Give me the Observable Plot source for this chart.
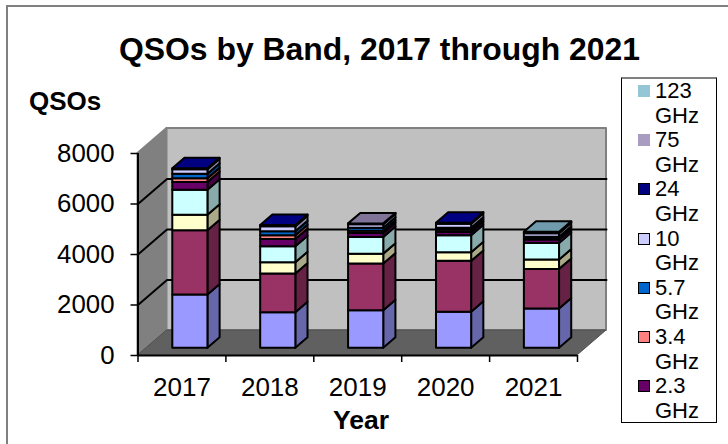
<!DOCTYPE html>
<html>
<head>
<meta charset="utf-8">
<script src="https://cdn.jsdelivr.net/npm/d3@7"></script>
<script src="https://cdn.jsdelivr.net/npm/@observablehq/plot@0.6"></script>
<style>
html,body{margin:0;padding:0;background:#fff}
#chart{position:relative;width:728px;height:444px;overflow:hidden;font-family:"Liberation Sans",Arial,sans-serif;color:#000}
#chart svg{position:absolute;left:0;top:0}
#frame{position:absolute;left:6px;top:5px;width:730px;height:450px;border:2px solid #808080}
.t{position:absolute;font-weight:bold;white-space:nowrap;line-height:1}
#title{left:0;width:759px;text-align:center;top:34px;font-size:31.9px}
#ylab{left:29px;top:88px;font-size:26px}
#xlab{left:333px;top:407px;font-size:26.5px}
#legend{position:absolute;left:621px;top:77px;width:94px;height:343px;border:1px solid #000;border-top:2px solid #808080;background:#fff;font-size:22px;line-height:24.6px}
.item{position:absolute;left:0;width:94px;height:49px}
.sw{position:absolute;left:16px;top:6px;width:10px;height:10px;border:1px solid #000}
.lb{position:absolute;left:33px;top:0;width:58px}
</style>
</head>
<body>
<div id="chart"></div>
<script>
const years = ["2017", "2018", "2019", "2020", "2021"];
const seriesNames = ["b1", "b2", "b3", "b4", "2.3 GHz", "3.4 GHz", "5.7 GHz", "10 GHz", "24 GHz", "75 GHz", "123 GHz"];
const frontColors = ["#9999FF", "#993366", "#FFFFCC", "#CCFFFF", "#660066", "#FF8080", "#0066CC", "#CCCCFF", "#000080", "#A89CC0", "#94C6D6"];
const sideColors  = ["#6666AA", "#662244", "#AAAA88", "#88AAAA", "#440044", "#AA5555", "#004488", "#8888AA", "#000055", "#706880", "#62848F"];
const topColors   = ["#7A7ACC", "#7A2952", "#CCCCA3", "#A3CCCC", "#520052", "#CC6666", "#0052A3", "#A3A3CC", "#000080", "#7F7398", "#6F9BAC"];

const v2017 = [2108, 2543, 620, 990, 305, 145, 178, 178, 40, 0, 0];
const v2018 = [1410, 1527, 451, 633, 289, 146, 158, 198, 50, 0, 0];
const v2019 = [1490, 1843, 395, 660, 158, 91, 119, 138, 20, 12, 0];
const v2020 = [1424, 2017, 344, 668, 134, 91, 79, 158, 40, 0, 0];
const v2021 = [1554, 1570, 368, 660, 131, 59, 59, 138, 20, 16, 16];
const table = [v2017, v2018, v2019, v2020, v2021];

const yTicks = [0, 2000, 4000, 6000, 8000];
const legendOrder = ["123 GHz", "75 GHz", "24 GHz", "10 GHz", "5.7 GHz", "3.4 GHz", "2.3 GHz"];

// oblique projection: depth z (0 front .. 1 back) shifts a point in data units
const depthX = 0.33, depthY = 989;
const barWidth = 0.40, zFront = 0.29, zBack = 0.71;
const px = (c, z) => c + z * depthX;
const py = (v, z) => v + z * depthY;
let nid = 0;
// a face is a pair of points joined by an area: two opposite edges
function face(list, a1, a2, b1, b2, fill) {
  const id = nid++;
  list.push({id, x1: a1[0], y1: a1[1], x2: a2[0], y2: a2[1], fill});
  list.push({id, x1: b1[0], y1: b1[1], x2: b2[0], y2: b2[1], fill});
}
const barFaces = [];
table.forEach((vals, c) => {
  const L = c + 0.5 - barWidth / 2, R = c + 0.5 + barWidth / 2;
  let base = 0, last = 0;
  vals.forEach((v, s) => {
    if (!v) return;
    const top = base + v;
    face(barFaces, [px(R, zFront), py(base, zFront)], [px(R, zFront), py(top, zFront)],
                   [px(R, zBack), py(base, zBack)], [px(R, zBack), py(top, zBack)], sideColors[s]);
    face(barFaces, [px(L, zFront), py(base, zFront)], [px(L, zFront), py(top, zFront)],
                   [px(R, zFront), py(base, zFront)], [px(R, zFront), py(top, zFront)], frontColors[s]);
    base = top; last = s;
  });
  face(barFaces, [px(L, zFront), py(base, zFront)], [px(R, zFront), py(base, zFront)],
                 [px(L, zBack), py(base, zBack)], [px(R, zBack), py(base, zBack)], topColors[last]);
});
const wallFaces = [];
face(wallFaces, [px(0, 0), py(0, 0)], [px(0, 0), py(8000, 0)], [px(0, 1), py(0, 1)], [px(0, 1), py(8000, 1)], "#808080");
face(wallFaces, [px(0, 1), py(0, 1)], [px(0, 1), py(8000, 1)], [px(5, 1), py(0, 1)], [px(5, 1), py(8000, 1)], "#C0C0C0");
const floorFaces = [];
face(floorFaces, [px(0, 0), py(0, 0)], [px(5, 0), py(0, 0)], [px(0, 1), py(0, 1)], [px(5, 1), py(0, 1)], "#606060");

const grid = [];
yTicks.slice(1, 4).forEach(v => {
  grid.push({v, x: px(0, 0), y: py(v, 0)}, {v, x: px(0, 1), y: py(v, 1)}, {v, x: px(5, 1), y: py(v, 1)});
});
const areaOpts = {x1: "x1", y1: "y1", x2: "x2", y2: "y2", z: "id", fill: "fill", curve: "linear"};

const plot = Plot.plot({
  width: 728, height: 444,
  marginLeft: 137.5, marginRight: 151, marginTop: 153, marginBottom: 89,
  style: {background: "transparent", fontFamily: '"Liberation Sans", Arial, sans-serif', overflow: "visible"},
  x: {domain: [0, 5]},
  y: {domain: [0, 8000]},
  marks: [
    Plot.area(wallFaces, {...areaOpts, stroke: "#808080", strokeWidth: 2}),
    Plot.area(floorFaces, {...areaOpts, stroke: "#505050", strokeWidth: 1}),
    Plot.line(grid, {x: "x", y: "y", z: "v", stroke: "#000", strokeWidth: 2}),
    Plot.area(barFaces, {...areaOpts, stroke: "#000", strokeWidth: 2, strokeLinejoin: "round"}),
    Plot.ruleX([0], {stroke: "#000", strokeWidth: 2}),
    Plot.ruleY([0], {stroke: "#000", strokeWidth: 2}),
    Plot.axisY({ticks: yTicks, tickFormat: d => String(d), tickSize: 7, tickPadding: 16.5, fontSize: 25.8, label: null, stroke: "#000", strokeWidth: 1.5}),
    Plot.axisX({ticks: [0, 1, 2, 3, 4, 5], tickFormat: () => "", tickSize: 7, label: null, stroke: "#000", strokeWidth: 1.5}),
    Plot.axisX({ticks: [0.5, 1.5, 2.5, 3.5, 4.5], tickFormat: d => years[Math.floor(d)], tickSize: 0, tickPadding: 22, fontSize: 26, label: null})
  ]
});
const root = document.getElementById("chart");
root.appendChild(plot);
root.insertAdjacentHTML("beforeend", `<div id="frame"></div>
<div class="t" id="title">QSOs by Band, 2017 through 2021</div>
<div class="t" id="ylab">QSOs</div>
<div class="t" id="xlab">Year</div>
<div id="legend"></div>`);
const lg = document.getElementById("legend");
legendOrder.forEach((name, i) => {
  const s = seriesNames.indexOf(name);
  const noBorder = s > 8;
  const it = document.createElement("div");
  it.className = "item";
  it.style.top = (i * 49.2) + "px";
  it.innerHTML = `<div class="sw" style="background:${frontColors[s]};border-color:${noBorder ? frontColors[s] : "#000"}"></div><div class="lb">${name}</div>`;
  lg.appendChild(it);
});
</script>
</body>
</html>
